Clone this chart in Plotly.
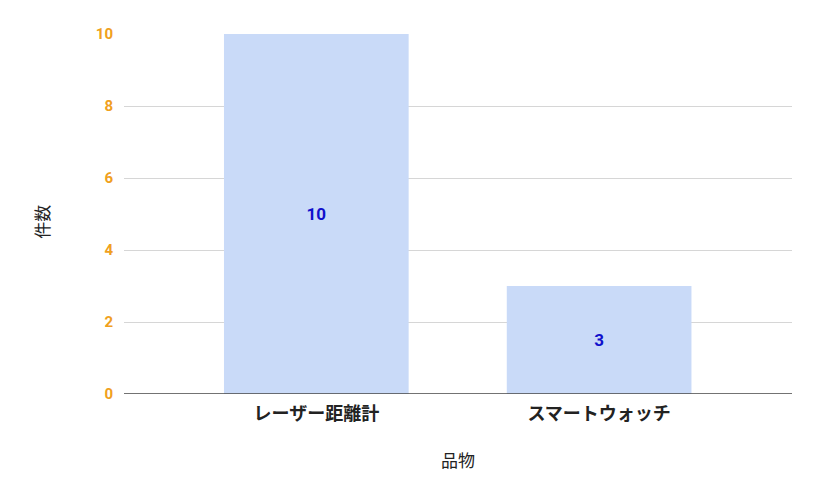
import plotly.graph_objects as go

categories = ["レーザー距離計", "スマートウォッチ"]
counts = [10, 3]
y_ticks = [0, 2, 4, 6, 8, 10]

FONT = "Roboto, Noto Sans CJK JP, sans-serif"
JFONT = "Noto Sans CJK JP, Roboto, sans-serif"

fig = go.Figure()
fig.add_trace(go.Bar(
    x=list(range(len(categories))),
    y=counts,
    width=0.653,
    marker=dict(color="#c9daf8", line=dict(width=0)),
    text=[str(v) for v in counts],
    textposition="inside",
    insidetextanchor="middle",
    textangle=0,
    textfont=dict(family=FONT, size=17, color="#1010cc", weight="bold"),
    hoverinfo="skip",
))

fig.update_layout(
    width=819, height=470,
    margin=dict(l=116, r=35, t=26, b=84),
    paper_bgcolor="white", plot_bgcolor="white",
    showlegend=False,
    xaxis=dict(
        range=[-0.68, 1.682],
        tickmode="array",
        tickvals=list(range(len(categories))),
        ticktext=categories,
        tickfont=dict(family=JFONT, size=18, color="#222222", weight="bold"),
        showgrid=False, zeroline=False, showline=False,
        ticks="", ticklen=0, ticklabelstandoff=7,
    ),
    yaxis=dict(
        range=[0, 10],
        tickmode="array",
        tickvals=y_ticks,
        ticktext=[str(v) for v in y_ticks],
        tickfont=dict(family=FONT, size=15, color="#f0a020", weight="bold"),
        showgrid=True, gridcolor="#d6d6d6", gridwidth=1,
        zeroline=False, showline=False,
        ticks="", ticklabelstandoff=10,
    ),
    shapes=[dict(type="line", xref="paper", yref="y", x0=0, x1=1, y0=0, y1=0,
                 line=dict(color="#444444", width=1.5), layer="above")],
    annotations=[
        dict(text="品物", xref="paper", yref="paper", x=0.5, y=-0.183,
             xanchor="center", yanchor="middle", showarrow=False,
             font=dict(family=JFONT, size=17, color="#222222")),
        dict(text="件数", xref="paper", yref="paper", x=-0.123, y=0.478,
             xanchor="center", yanchor="middle", showarrow=False, textangle=-90,
             font=dict(family=JFONT, size=17, color="#222222")),
    ],
)

fig.write_html("out.html")
